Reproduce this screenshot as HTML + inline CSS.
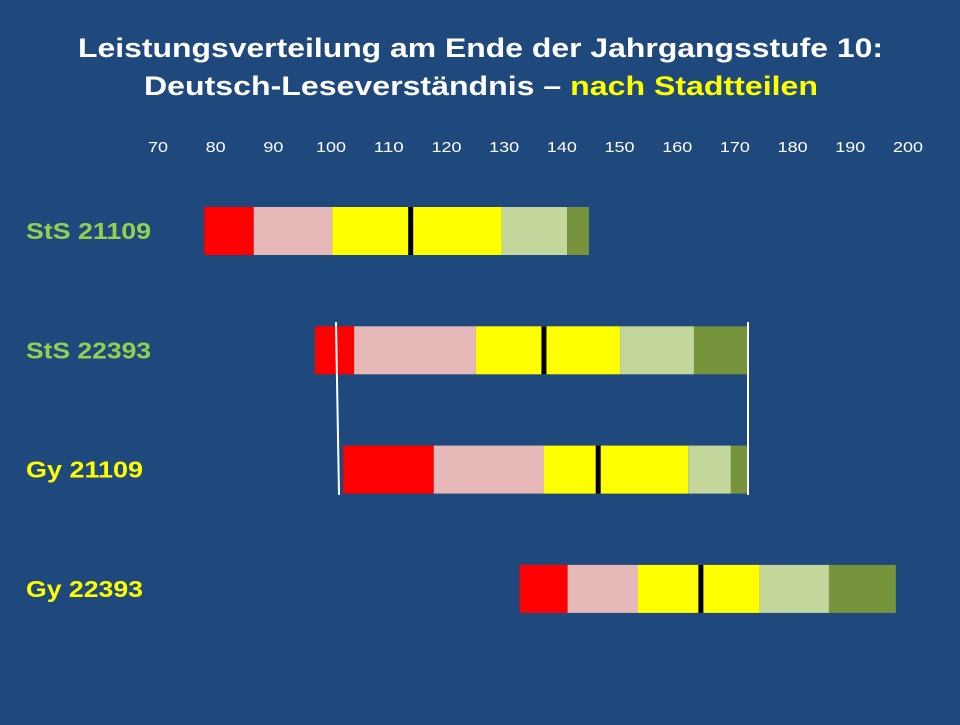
<!DOCTYPE html>
<html><head><meta charset="utf-8"><style>
body{margin:0;width:960px;height:720px;background:#1f497d;overflow:hidden;font-family:"Liberation Sans",sans-serif}
</style></head><body>
<svg width="960" height="720" xmlns="http://www.w3.org/2000/svg">
<text x="78" y="57" textLength="805" lengthAdjust="spacingAndGlyphs" fill="#fff" font-size="27" font-weight="bold">Leistungsverteilung am Ende der Jahrgangsstufe 10:</text>
<text x="144" y="95" textLength="674" lengthAdjust="spacingAndGlyphs" fill="#fff" font-size="27" font-weight="bold">Deutsch-Leseverständnis – <tspan fill="#ffff00">nach Stadtteilen</tspan></text>
<g id="ticks"></g><g id="bars"></g>
<line x1="336" y1="322" x2="339" y2="495" stroke="#fff" stroke-width="2"/>
<line x1="748" y1="322" x2="748" y2="495" stroke="#fff" stroke-width="2"/>
</svg>
<script>
const categories=["StS 21109","StS 22393","Gy 21109","Gy 22393"];
const labelColors=["#92d050","#92d050","#ffff00","#ffff00"];
const starts=[78,97.2,102.1,132.7];
const medians=[113.8,136.9,146.3,164.1];
const ends=[[86.6,100.2,113.8,129.6,140.9,144.7],[104,125.1,136.9,150.1,162.9,172.1],[117.8,136.9,146.3,161.9,169.3,172.1],[141,153.2,164.1,174.3,186.3,197.9]];
const tickLabels=[70,80,90,100,110,120,130,140,150,160,170,180,190,200];
const segColors=["#ff0000","#e6b9b8","#ffff00","#ffff00","#c3d69b","#77933c"];
const NS="http://www.w3.org/2000/svg";
const x=v=>158+(v-70)*750/130;
const yTop=i=>207+i*119.3;
function mk(t,a,p){const e=document.createElementNS(NS,t);for(const k in a)e.setAttribute(k,a[k]);p.appendChild(e);return e;}
const tg=document.getElementById('ticks');
tickLabels.forEach(t=>{const s=String(t);const w=s.length*10;
const e=mk('text',{x:x(t)-w/2,y:152,textLength:w,lengthAdjust:'spacingAndGlyphs',fill:'#fff','font-size':15},tg);e.textContent=s;

});
const bg=document.getElementById('bars');
categories.forEach((c,i)=>{
 const l=mk('text',{x:26,y:yTop(i)+32,textLength:c.startsWith('StS')?125:117,lengthAdjust:'spacingAndGlyphs',fill:labelColors[i],'font-size':23,'font-weight':'bold'},bg);l.textContent=c;
 
 
 let prev=starts[i];
 ends[i].forEach((b,j)=>{const r=mk('rect',{x:x(prev),y:yTop(i),width:Math.max(0,x(b)-x(prev)),height:48,fill:segColors[j]},bg);
 
 prev=b;});
 const m=mk('rect',{x:x(medians[i])-2.5,y:yTop(i),width:5,height:48,fill:'#000'},bg);
 
 
});
</script>
</body></html>
